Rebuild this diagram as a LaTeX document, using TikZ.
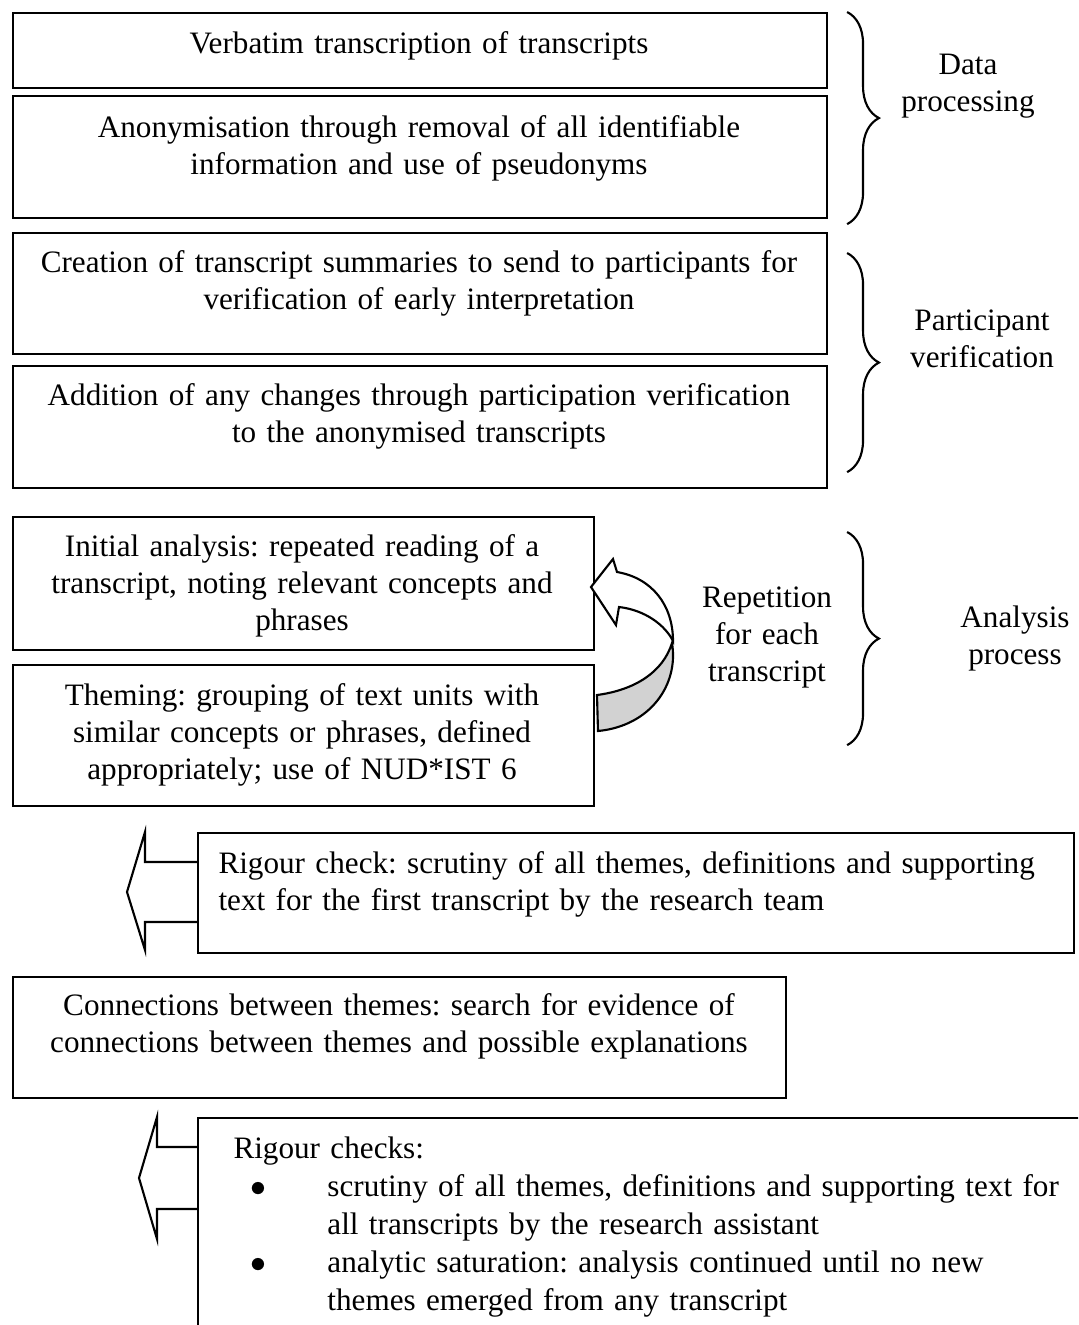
\documentclass[tikz,border=0pt]{standalone}
\usepackage{fontspec}
\setmainfont{Liberation Serif}
\usetikzlibrary{calc}
\usetikzlibrary{decorations.pathreplacing}
\newcommand{\pxu}{0.377pt}
\newcommand{\dotmark}{$\bullet$}

\begin{document}
\frenchspacing
\begin{tikzpicture}[x=0.377pt, y=-0.377pt,
            every node/.style = {font=\fontsize{11.75}{14}\selectfont},
            box/.style = {draw, line width=0.8pt, anchor=north west, inner sep=0pt},
            txt/.style = {align=center, text width=310pt, inner sep=0pt, anchor=base},
            side/.style = {align=center, text width=80pt, inner sep=0pt, anchor=base},
            curly/.style = {decorate, line width=0.8pt, decoration={brace, amplitude=12pt}},
            blockarrow/.style = {line width=0.8pt, line join=miter}]
            \useasboundingbox (0,0) rectangle (1078,1325);
            \clip (0,0) rectangle (1078,1325);
            % data processing
            \node[box, minimum width=814*\pxu, minimum height=75*\pxu] (b1) at (12,12) {};
            \node[box, minimum width=814*\pxu, minimum height=122*\pxu] (b2) at (12,95) {};
            \node[txt] (t1) at (419,53) {Verbatim transcription of transcripts};
            \node[txt] (t2) at (419,137) {Anonymisation through removal of all identifiable\\
                information and use of pseudonyms};
            % participant verification
            \node[box, minimum width=814*\pxu, minimum height=121*\pxu] (b3) at (12,232) {};
            \node[box, minimum width=814*\pxu, minimum height=122*\pxu] (b4) at (12,365) {};
            \node[txt] (t3) at (419,272) {Creation of transcript summaries to send to participants for\\
                verification of early interpretation};
            \node[txt] (t4) at (419,405) {Addition of any changes through participation verification\\
                to the anonymised transcripts};
            % analysis
            \node[box, minimum width=581*\pxu, minimum height=133*\pxu] (b5) at (12,516) {};
            \node[box, minimum width=581*\pxu, minimum height=141*\pxu] (b6) at (12,664) {};
            \node[txt] (t5) at (302,556) {Initial analysis: repeated reading of a\\
                transcript, noting relevant concepts and\\ phrases};
            \node[txt] (t6) at (302,705) {Theming: grouping of text units with\\
                similar concepts or phrases, defined\\ appropriately; use of NUD*IST 6};
            % curved arrow
            \filldraw[line width=0.8pt, fill=gray!35] (672,643) .. controls (679,685) and (650,726) .. (598,731)
                -- (597,695) .. controls (635,690) and (663,672) .. cycle;
            \filldraw[line width=0.8pt, fill=white, line join=miter] (591,587) -- (613,559) -- (617,572)
                .. controls (652,578) and (673,605) .. (673,641)
                .. controls (665,625) and (645,610) .. (619,607) -- (616,625) -- cycle;
            \node[side] (rep) at (767,607) {Repetition\\ for each\\ transcript};
            % braces
            \draw[curly] ($(b1.north east)+(19,0)$) -- ($(b2.south east)+(19,5)$);
            \draw[curly] ($(b3.north east)+(19,21)$) -- ($(b4.south east)+(19,-17)$);
            \draw[curly] ($(b5.north east)+(252,16)$) -- ($(b6.south east)+(252,-62)$);
            \node[side] (l1) at (968,74) {Data\\ processing};
            \node[side] (l2) at (982,330) {Participant\\ verification};
            \node[side] (l3) at (1015,627) {Analysis\\ process};
            % rigour check
            \node[box, minimum width=876*\pxu, minimum height=120*\pxu] (rc1) at (197,832) {};
            \node[txt, align=left, anchor=base west, text width=340pt] (t7) at (218,873)
                {Rigour check: scrutiny of all themes, definitions and supporting\\
                text for the first transcript by the research team};
            \draw[blockarrow] ($(rc1.north west)+(0,30)$) -- ++(-52,0) -- ++(0,-30) -- ++(-18,60)
                -- ++(18,58) -- ++(0,-28) -- ($(rc1.north west)+(0,90)$);
            % connections
            \node[box, minimum width=773*\pxu, minimum height=121*\pxu] (cn) at (12,976) {};
            \node[txt] (t8) at (399,1015) {Connections between themes: search for evidence of\\
                connections between themes and possible explanations};
            % rigour checks
            \node[box, minimum width=900*\pxu, minimum height=260*\pxu] (rc2) at (197,1117) {};
            \node[txt, align=left, anchor=base west, text width=340pt,
                font=\fontsize{11.75}{14.4}\selectfont] (t9) at (233,1158)
                {Rigour checks:\par
                {\leftskip=35.4pt
                \noindent\llap{\dotmark\hspace{23pt}}scrutiny of all themes, definitions and supporting text for\\
                all transcripts by the research assistant\par
                \noindent\llap{\dotmark\hspace{23pt}}analytic saturation: analysis continued until no new\\
                themes emerged from any transcript\par}};
            \draw[blockarrow] ($(rc2.north west)+(0,30)$) -- ++(-40,0) -- ++(0,-30) -- ++(-18,61)
                -- ++(18,61) -- ++(0,-30) -- ($(rc2.north west)+(0,92)$);
        \end{tikzpicture}
\end{document}
